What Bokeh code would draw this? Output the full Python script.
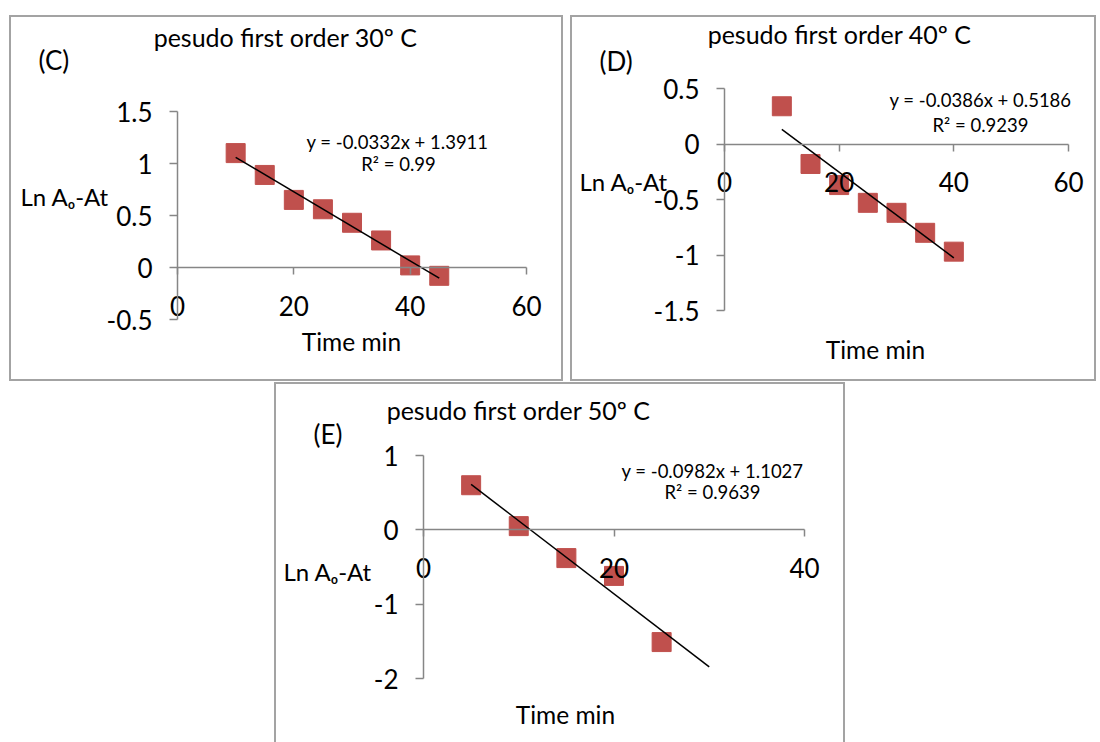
from bokeh.plotting import figure
from bokeh.models import Range1d, LinearAxis, FixedTicker, Label, Spacer
from bokeh.layouts import column, row
from bokeh.embed import file_html
from bokeh.resources import INLINE

# ---------------- data ----------------
time_30 = [10, 15, 20, 25, 30, 35, 40, 45]
ln_30 = [1.10, 0.89, 0.65, 0.56, 0.43, 0.26, 0.02, -0.08]

time_40 = [10, 15, 20, 25, 30, 35, 40]
ln_40 = [0.34, -0.18, -0.37, -0.53, -0.62, -0.80, -0.97]

time_50 = [5, 10, 15, 20, 25]
ln_50 = [0.60, 0.05, -0.38, -0.62, -1.51]

fit_slope = [-0.0332, -0.0386, -0.0982]
fit_intercept = [1.3911, 0.5186, 1.1027]
fit_r2 = ["0.99", "0.9239", "0.9639"]
fit_x_span = [(10, 45), (10, 40), (5, 30)]

titles = ["pesudo first order 30º C", "pesudo first order 40º C", "pesudo first order 50º C"]
panel_tags = ["(C)", "(D)", "(E)"]
x_ticks = [[0, 20, 40, 60], [0, 20, 40, 60], [0, 20, 40]]
y_ticks = [[-0.5, 0, 0.5, 1, 1.5], [-1.5, -1, -0.5, 0, 0.5], [-2, -1, 0, 1]]
x_label = "Time min"
y_label = "Ln Aₒ-At"

series_x = [time_30, time_40, time_50]
series_y = [ln_30, ln_40, ln_50]

# ---------------- layout / style ----------------
FONT = "Lato"
AXIS_COLOR = "#868686"
MARKER = "#c0504d"

# page geometry of each chart box (left, top, w, h) and where the axis extents lie
# inside it (margins from the box edges, in px)
geom = [
    dict(left=9, top=15, w=554, h=366, ml=168, mr=37, mt=96, mb=62),
    dict(left=570, top=15, w=526, h=366, ml=154, mr=28, mt=73, mb=71),
    dict(left=274, top=382, w=571, h=360, ml=149, mr=41, mt=73, mb=64),
]
# text anchor positions in page pixels
text_pos = [
    dict(title=(285, 36), tag=(38, 59), ylab=(20, 196), eq=(397, 141), r2=(398, 163), xlab=(351, 341)),
    dict(title=(839, 33), tag=(599, 60), ylab=(579, 181), eq=(980, 99), r2=(980, 124), xlab=(875, 349)),
    dict(title=(518, 409), tag=(313, 433), ylab=(283, 571), eq=(712, 470), r2=(712, 491), xlab=(565, 714)),
]
box_shadow = [
    "inset 0 0 0 2px #a3a3a3",
    "inset 0 0 0 2px #a3a3a3",
    "inset 2px 0 0 #a3a3a3, inset -2px 0 0 #a3a3a3, inset 0 2px 0 #a3a3a3",
]


def full_ranges(g, xt, yt):
    fl = g["left"] + g["ml"]
    fr = g["left"] + g["w"] - g["mr"]
    ft = g["top"] + g["mt"]
    fb = g["top"] + g["h"] - g["mb"]
    x0, x1 = min(xt), max(xt)
    y0, y1 = min(yt), max(yt)
    sx = (x1 - x0) / (fr - fl)
    sy = (y1 - y0) / (fb - ft)
    X0 = x0 - (fl - g["left"]) * sx
    X1 = x1 + (g["left"] + g["w"] - fr) * sx
    Y1 = y1 + (ft - g["top"]) * sy
    Y0 = y0 - (g["top"] + g["h"] - fb) * sy
    return (X0, X1), (Y0, Y1)


def to_data(g, xr, yr, px, py):
    x = xr[0] + (px - g["left"]) / g["w"] * (xr[1] - xr[0])
    y = yr[1] - (py - g["top"]) / g["h"] * (yr[1] - yr[0])
    return x, y


def style_axis(ax, tick_out, standoff):
    ax.axis_line_color = AXIS_COLOR
    ax.axis_line_width = 1.5
    ax.major_tick_line_color = AXIS_COLOR
    ax.major_tick_line_width = 1.5
    ax.major_tick_in = 0
    ax.major_tick_out = tick_out
    ax.minor_tick_line_color = None
    ax.major_label_text_font = FONT
    ax.major_label_text_font_size = "26px"
    ax.major_label_text_color = "black"
    ax.major_label_standoff = standoff


def make_panel(i):
    g = geom[i]
    xt, yt = x_ticks[i], y_ticks[i]
    xr, yr = full_ranges(g, xt, yt)
    p = figure(width=g["w"], height=g["h"],
               x_range=Range1d(*xr), y_range=Range1d(*yr),
               x_axis_location=None, y_axis_location=None, title_location=None,
               output_backend="svg", toolbar_location=None,
               min_border_left=0, min_border_right=0,
               min_border_top=0, min_border_bottom=0)
    p.min_border = 0
    p.outline_line_color = None
    p.background_fill_color = None
    p.border_fill_color = None
    p.grid.visible = False
    p.styles = {"box-shadow": box_shadow[i]}

    ya = LinearAxis(fixed_location=0, bounds=(min(yt), max(yt)), ticker=FixedTicker(ticks=yt),
                    major_label_overrides={t: f"{t:g}" for t in yt})
    style_axis(ya, 8, 17)
    p.add_layout(ya, "left")

    xa = LinearAxis(fixed_location=0, bounds=(min(xt), max(xt)), ticker=FixedTicker(ticks=xt),
                    major_label_overrides={t: f"{t:g}" for t in xt})
    style_axis(xa, 7, 21)
    p.add_layout(xa, "below")

    p.scatter(series_x[i], series_y[i], marker="square", size=19,
              fill_color=MARKER, line_color=MARKER)
    x0, x1 = fit_x_span[i]
    m, b = fit_slope[i], fit_intercept[i]
    p.line([x0, x1], [m * x0 + b, m * x1 + b], line_color="black", line_width=1.5)

    tp = text_pos[i]
    eq = f"y = {fit_slope[i]}x + {fit_intercept[i]}"
    r2 = f"R² = {fit_r2[i]}"
    items = [
        (titles[i], tp["title"], "25px", "center"),
        (panel_tags[i], tp["tag"], "26px", "left"),
        (y_label, tp["ylab"], "24px", "left"),
        (eq, tp["eq"], "18.5px", "center"),
        (r2, tp["r2"], "18.5px", "center"),
        (x_label, tp["xlab"], "24.5px", "center"),
    ]
    for txt, (px, py), size, align in items:
        x, y = to_data(g, xr, yr, px, py)
        p.add_layout(Label(x=x, y=y, text=txt, text_font=FONT, text_font_size=size,
                           text_align=align, text_baseline="alphabetic",
                           text_color="black"))
    return p


pC, pD, pE = (make_panel(i) for i in range(3))

layout = column(
    Spacer(height=15),
    row(Spacer(width=9), pC, Spacer(width=7), pD),
    Spacer(height=1),
    row(Spacer(width=274), pE),
)

open("out.html", "w").write(file_html(layout, INLINE))
